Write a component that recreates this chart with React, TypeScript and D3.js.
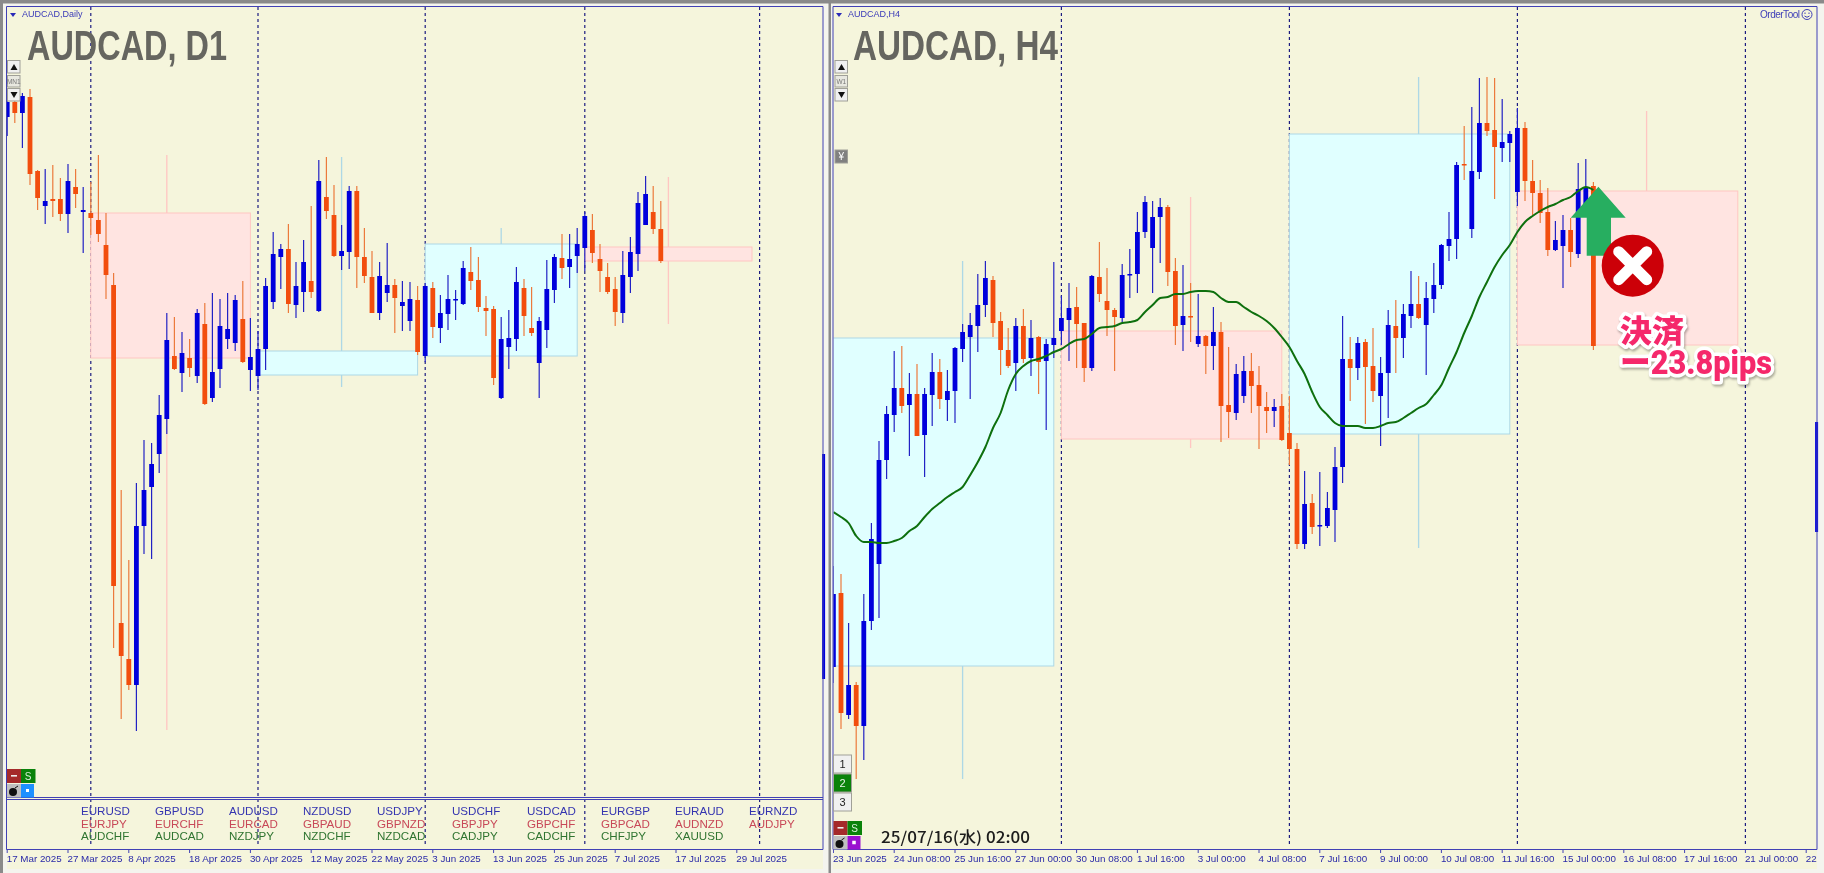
import React from "react";
import * as d3 from "d3";

type Candle = [number, number, number, number];
type Block = { from: number; to: number; top: number; bottom: number; wick: number; high: number; low: number; up: boolean };

// Candles: [open, high, low, close], in pips above the chart's base level. The chart has no price scale.
const dailyCandles: Candle[] = [
  [783,800,764,798],[798,802,777,787],[787,807,752,804],[803,811,715,726],[729,730,690,702],[694,731,676,699],[701,735,683,699],[701,722,679,686],
  [686,736,667,719],[713,731,692,706],[688,713,647,690],[687,718,665,682],[680,745,658,666],[655,687,601,625],[615,627,252,314],[277,410,181,244],
  [241,340,210,215],[215,417,169,374],[374,460,346,410],[413,457,341,436],[446,505,427,485],[481,587,466,560],[544,583,530,531],[527,568,508,547],
  [542,561,523,532],[524,591,517,587],[576,597,495,496],[502,607,498,528],[531,601,512,574],[561,607,551,571],[557,605,549,600],[581,619,537,538],
  [530,582,509,543],[524,569,510,551],[551,622,530,614],[598,668,591,646],[643,656,611,651],[651,676,587,596],[595,638,582,614],[608,660,588,638],
  [619,694,602,608],[589,740,588,719],[703,743,681,689],[685,715,643,644],[644,675,630,649],[648,714,631,709],[709,714,612,643],[643,672,617,624],
  [623,649,587,587],[587,638,580,624],[607,657,598,615],[615,621,567,602],[594,619,569,598],[579,618,569,601],[600,614,545,548],[544,617,538,614],
  [612,618,562,573],[572,605,557,587],[586,625,570,601],[600,610,580,601],[596,639,595,632],[628,653,610,619],[620,643,588,593],[592,604,564,589],
  [591,594,515,522],[502,583,501,561],[553,590,531,562],[561,633,549,618],[612,621,564,584],[572,613,564,567],[537,583,502,579],[570,640,552,611],
  [610,646,597,643],[642,666,621,632],[633,666,612,641],[644,672,627,656],[652,688,629,684],[670,686,637,647],[641,656,608,629],[623,637,606,608],
  [611,623,574,588],[587,649,577,625],[623,663,607,648],[646,708,629,697],[675,724,675,706],[688,714,666,671],[671,699,637,639],
];

const h4Candles: Candle[] = [
  [233,334,217,306],[307,326,171,187],[185,277,181,215],[215,218,121,174],[174,306,140,279],[279,377,270,361],[336,459,282,440],[440,494,421,486],
  [485,549,468,512],[512,554,487,494],[495,527,444,506],[506,536,464,464],[465,512,423,506],[505,547,474,528],[528,541,491,501],[500,530,479,509],
  [509,553,477,552],[551,576,538,568],[563,587,501,575],[574,626,548,595],[595,639,583,622],[620,624,563,577],[579,588,525,550],[550,572,532,534],
  [537,582,509,574],[574,591,537,541],[542,580,524,562],[563,564,506,538],[539,561,470,556],[555,638,542,562],[569,604,555,582],[580,617,539,592],
  [593,613,532,576],[577,577,518,532],[532,625,529,624],[623,658,598,606],[599,632,564,590],[590,592,529,583],[582,636,578,625],[625,651,602,626],
  [626,688,607,668],[668,704,662,698],[652,699,607,683],[683,702,637,693],[693,695,614,628],[629,642,555,574],[575,635,549,584],[584,617,558,583],
  [556,606,553,564],[564,565,526,554],[554,593,530,568],[568,578,458,494],[495,553,462,488],[487,536,480,526],[504,544,497,529],[529,547,487,514],
  [515,534,451,494],[493,508,467,489],[489,501,473,493],[494,506,459,460],[467,504,435,451],[451,457,351,356],[356,429,351,396],[397,406,366,373],
  [374,428,354,375],[374,408,372,392],[390,453,358,433],[433,584,417,541],[541,563,499,532],[532,563,520,557],[558,561,476,533],[534,572,498,509],
  [504,543,454,527],[527,590,482,575],[574,600,527,562],[562,596,542,586],[584,629,572,596],[596,624,581,582],[575,618,525,602],[601,637,587,615],
  [615,656,611,655],[654,688,639,661],[661,738,641,735],[736,774,720,735],[671,793,662,729],[728,822,721,777],[777,823,764,769],[770,822,701,753],
  [752,801,738,758],[757,769,738,766],[708,792,694,772],[772,778,699,719],[719,740,685,707],[707,720,677,687],[688,712,644,650],[650,679,649,660],
  [654,685,612,670],[670,682,633,648],[646,737,642,711],[695,741,685,713],[714,718,550,554],
];

const h4MovingAverage = [
  388,383,377,364,358,358,357,357,359,362,369,374,383,391,397,403,408,413,425,438,453,472,487,510,526,534,539,541,544,548,
  551,556,560,561,566,572,573,574,577,578,580,588,595,602,603,606,606,608,609,609,608,602,598,598,593,588,584,579,572,563,
  553,539,526,508,493,485,477,474,474,474,472,472,474,477,478,482,487,492,496,505,515,532,548,567,584,603,618,633,645,655,
  668,678,684,689,693,696,700,703,709,713,710,
];

// Higher-timeframe candles shown as shaded boxes with a thin wick.
const dailyBlocks: Block[] = [
  { from: -1, to: 10, top: 690, bottom: 690, wick: 5, high: 690, low: 690, up: false },
  { from: 11, to: 32, top: 687, bottom: 542, wick: 21, high: 745, low: 170, up: false },
  { from: 33, to: 54, top: 549, bottom: 525, wick: 44, high: 743, low: 513, up: true },
  { from: 55, to: 75, top: 656, bottom: 544, wick: 65, high: 672, low: 501, up: true },
  { from: 76, to: 98, top: 653, bottom: 639, wick: 87, high: 723, low: 576, up: false },
];
const h4Blocks: Block[] = [
  { from: -1, to: 29, top: 562, bottom: 234, wick: 17, high: 639, low: 121, up: true },
  { from: 30, to: 59, top: 569, bottom: 461, wick: 47, high: 703, low: 452, up: false },
  { from: 60, to: 89, top: 766, bottom: 466, wick: 77, high: 823, low: 352, up: true },
  { from: 90, to: 119, top: 709, bottom: 555, wick: 107, high: 789, low: 555, up: false },
];

const dailyDividers = [11, 33, 55, 76, 99];
const h4Dividers = [30, 60, 90, 120];
const dailyEdgeBar: [number, number] = [446, 221];
const h4EdgeBar: [number, number] = [478, 368];

const dailyTicks = ["17 Mar 2025","27 Mar 2025","8 Apr 2025","18 Apr 2025","30 Apr 2025","12 May 2025","22 May 2025","3 Jun 2025","13 Jun 2025","25 Jun 2025","7 Jul 2025","17 Jul 2025","29 Jul 2025"];
const h4Ticks = ["23 Jun 2025","24 Jun 08:00","25 Jun 16:00","27 Jun 00:00","30 Jun 08:00","1 Jul 16:00","3 Jul 00:00","4 Jul 08:00","7 Jul 16:00","9 Jul 00:00","10 Jul 08:00","11 Jul 16:00","15 Jul 00:00","16 Jul 08:00","17 Jul 16:00","21 Jul 00:00","22 Jul 08:00"];

const symbolsMajor = ["EURUSD","GBPUSD","AUDUSD","NZDUSD","USDJPY","USDCHF","USDCAD","EURGBP","EURAUD","EURNZD"];
const symbolsCrossA = ["EURJPY","EURCHF","EURCAD","GBPAUD","GBPNZD","GBPJPY","GBPCHF","GBPCAD","AUDNZD","AUDJPY"];
const symbolsCrossB = ["AUDCHF","AUDCAD","NZDJPY","NZDCHF","NZDCAD","CADJPY","CADCHF","CHFJPY","XAUUSD"];
const symbolColumnX = [81, 155, 229, 303, 377, 452, 527, 601, 675, 749];

const BEIGE = "#f5f5dc";
const BLUE = "#0000dc";
const ORANGE = "#f24e0e";
const WICK_BLUE = "#2222c4";
const WICK_ORANGE = "#ec7a3c";
const FRAME = "#4040b4";
const AXIS_FONT = "'Liberation Sans', Arial, sans-serif";

const y = d3.scaleLinear().domain([894, 51]).range([6, 849]);
const xDaily = d3.scaleLinear().domain([0, 100]).range([7.2, 767.2]);
const xH4 = d3.scaleLinear().domain([0, 100]).range([833.4, 1593.4]);

function Blocks({ blocks, x }: { blocks: Block[]; x: d3.ScaleLinear<number, number> }) {
  return (
    <g>
      {blocks.map((b, i) => {
        const edge = b.up ? "#add8e6" : "#ffc6c2";
        return (
          <g key={i}>
            <line x1={x(b.wick)} x2={x(b.wick)} y1={y(b.high)} y2={y(b.low)} stroke={edge} strokeWidth={1.3} />
            <rect x={x(b.from)} y={y(b.top)} width={x(b.to) - x(b.from)} height={Math.max(0, y(b.bottom) - y(b.top))}
              fill={b.up ? "#e0ffff" : "#ffe4e1"} stroke={edge} strokeWidth={1} />
          </g>
        );
      })}
    </g>
  );
}

function Candles({ data, x }: { data: Candle[]; x: d3.ScaleLinear<number, number> }) {
  return (
    <g>
      {data.map(([o, h, l, c], i) => {
        const up = c >= o;
        const cx = x(i);
        const top = y(Math.max(o, c));
        const bottom = y(Math.min(o, c));
        return (
          <g key={i}>
            <line x1={cx} x2={cx} y1={y(h)} y2={y(l)} stroke={up ? WICK_BLUE : WICK_ORANGE} strokeWidth={1.2} />
            <rect x={cx - 2.4} y={top} width={4.8} height={Math.max(1.5, bottom - top)} fill={up ? BLUE : ORANGE} />
          </g>
        );
      })}
    </g>
  );
}

function Dividers({ at, x }: { at: number[]; x: d3.ScaleLinear<number, number> }) {
  return (
    <g>
      {at.map((d) => (
        <line key={d} x1={x(d)} x2={x(d)} y1={7} y2={847} stroke="#1c1c80" strokeWidth={1.2} strokeDasharray="3 3" />
      ))}
    </g>
  );
}

function Ticks({ labels, x, step }: { labels: string[]; x: d3.ScaleLinear<number, number>; step: number }) {
  return (
    <g>
      {labels.map((t, i) => (
        <g key={t}>
          <line x1={x(i * step)} x2={x(i * step)} y1={849} y2={853} stroke={FRAME} strokeWidth={1} />
          <text x={x(i * step) - 0.5} y={862} fontFamily={AXIS_FONT} fontSize={9.8} fill="#2a2aa8">{t}</text>
        </g>
      ))}
    </g>
  );
}

function Button({ x0, y0, w, h, fill, label, color = "#222", size = 9 }: { x0: number; y0: number; w: number; h: number; fill: string; label?: string; color?: string; size?: number }) {
  return (
    <g>
      <rect x={x0} y={y0} width={w} height={h} fill={fill} stroke="#a0a098" strokeWidth={1} />
      {label && (
        <text x={x0 + w / 2} y={y0 + h / 2 + size * 0.36} textAnchor="middle" fontFamily={AXIS_FONT} fontSize={size} fill={color}>{label}</text>
      )}
    </g>
  );
}

function Stepper({ x0, label }: { x0: number; label: string }) {
  return (
    <g>
      <Button x0={x0} y0={60.5} w={12.5} h={12.5} fill="#f0f0f0" />
      <path d={`M${x0 + 3},70 h7 l-3.5,-6 z`} fill="#111" />
      <Button x0={x0} y0={75.5} w={12.5} h={11.5} fill="#e8e8e0" label={label} color="#777" size={6.5} />
      <Button x0={x0} y0={88.5} w={12.5} h={12.5} fill="#f0f0f0" />
      <path d={`M${x0 + 3},92 h7 l-3.5,6 z`} fill="#111" />
    </g>
  );
}

function Toolbox({ x0, y0, pick, dot }: { x0: number; y0: number; pick: string; dot: number }) {
  return (
    <g>
      <rect x={x0} y={y0} width={14} height={14} fill="#a52a2a" />
      <rect x={x0 + 4} y={y0 + 6} width={6} height={1.6} fill="#eee" />
      <rect x={x0 + 14} y={y0} width={14.5} height={14} fill="#0a820a" />
      <text x={x0 + 21} y={y0 + 11} textAnchor="middle" fontFamily={AXIS_FONT} fontSize={10} fill="#d8f0d8">S</text>
      <rect x={x0} y={y0 + 15} width={14} height={13.5} fill="#c0c0c0" />
      <circle cx={x0 + 6} cy={y0 + 23} r={4} fill="#111" />
      <path d={`M${x0 + 8},${y0 + 19} l3,-2`} stroke="#111" strokeWidth={1} />
      <rect x={x0 + 14} y={y0 + 15} width={13} height={13.5} fill={pick} />
      <rect x={x0 + 20.5 - dot / 2} y={y0 + 21.5 - dot / 2} width={dot} height={dot} fill="#fff" />
    </g>
  );
}

function Title({ x0, text, width }: { x0: number; text: string; width: number }) {
  return (
    <text x={x0} y={59.5} fontFamily="'Liberation Sans Narrow','Liberation Sans',sans-serif" fontWeight={700} fontSize={43}
      fill="#666660" textLength={width} lengthAdjust="spacingAndGlyphs">{text}</text>
  );
}

export default function App() {
  const ma = d3.line<number>().x((_, i) => xH4(i)).y((v) => y(v)).curve(d3.curveMonotoneX)(h4MovingAverage) ?? "";
  const lastX = xH4(100);
  const crossX = lastX + 39.3;
  const crossY = 265.7;
  return (
    <svg width={1824} height={873} viewBox="0 0 1824 873" style={{ position: "absolute", left: 0, top: 0, display: "block" }}>
      <defs>
        <clipPath id="dailyClip"><rect x={7} y={7} width={816} height={790} /></clipPath>
        <clipPath id="h4Clip"><rect x={833.5} y={7} width={983} height={842} /></clipPath>
        <clipPath id="h4AxisClip"><rect x={833} y={849} width={985} height={20} /></clipPath>
      </defs>
      <g style={{ filter: "blur(0.3px)" }}>
      <rect width={1824} height={873} fill="#f4f4ee" />
      <rect width={1824} height={3.5} fill="#8a8a8a" />
      <rect width={3} height={873} fill="#8a8a8a" />
      <rect x={828.5} width={2.5} height={873} fill="#8a8a8a" />
      <rect x={7} y={6} width={816} height={863} fill={BEIGE} />
      <rect x={833} y={6} width={984} height={863} fill={BEIGE} />

      {/* Daily panel */}
      <Dividers at={dailyDividers} x={xDaily} />
      <g clipPath="url(#dailyClip)">
        <Blocks blocks={dailyBlocks} x={xDaily} />
        <Candles data={dailyCandles} x={xDaily} />
      </g>
      <line x1={823.6} x2={823.6} y1={y(dailyEdgeBar[0])} y2={y(dailyEdgeBar[1])} stroke={BLUE} strokeWidth={3} />
      <path d="M6.5,849.5 V6.5 H823 V849.5 Z" fill="none" stroke={FRAME} strokeWidth={1} />
      <path d="M6.5,797.5 H823 M6.5,799.5 H823" fill="none" stroke={FRAME} strokeWidth={1} />
      <Ticks labels={dailyTicks} x={xDaily} step={8} />
      {[symbolsMajor, symbolsCrossA, symbolsCrossB].map((row, r) => (
        <g key={r}>
          {row.map((s, i) => (
            <text key={s} x={symbolColumnX[i]} y={815 + [0, 13, 25][r]} fontFamily={AXIS_FONT} fontSize={11.6}
              fill={["#3434b0", "#c84858", "#2f7430"][r]}>{s}</text>
          ))}
        </g>
      ))}
      <path d="M10,13 h6 l-3,4 z" fill="#2a2ab8" />
      <text x={22} y={17} fontFamily={AXIS_FONT} fontSize={9} fill="#3a3ab8">AUDCAD,Daily</text>
      <Title x0={27} text="AUDCAD, D1" width={200} />
      <Stepper x0={7.5} label="MN1" />
      <Toolbox x0={7} y0={769} pick="#1e90ff" dot={3} />

      {/* H4 panel */}
      <Dividers at={h4Dividers} x={xH4} />
      <g clipPath="url(#h4Clip)">
        <Blocks blocks={h4Blocks} x={xH4} />
        <Candles data={h4Candles} x={xH4} />
        <path d={ma} fill="none" stroke="#0e700e" strokeWidth={2} />
      </g>
      <line x1={1816.6} x2={1816.6} y1={y(h4EdgeBar[0])} y2={y(h4EdgeBar[1])} stroke={BLUE} strokeWidth={3} />
      <path d="M833,849.5 V6.5 H1817 V849.5 Z" fill="none" stroke={FRAME} strokeWidth={1} />
      <g clipPath="url(#h4AxisClip)">
        <Ticks labels={h4Ticks} x={xH4} step={8} />
      </g>
      <path d="M836,13 h6 l-3,4 z" fill="#2a2ab8" />
      <text x={848} y={17} fontFamily={AXIS_FONT} fontSize={9} fill="#3a3ab8">AUDCAD,H4</text>
      <Title x0={853} text="AUDCAD, H4" width={205} />
      <Stepper x0={835} label="W1" />
      <Button x0={835} y0={150} w={12.5} h={13} fill="#808080" label="¥" color="#fff" size={10} />
      <Button x0={833.5} y0={755} w={18} h={18} fill="#f0f0f0" label="1" size={11} />
      <Button x0={833.5} y0={774} w={18} h={18} fill="#0a820a" label="2" color="#e8f4e8" size={11} />
      <Button x0={833.5} y0={793} w={18} h={18} fill="#f0f0f0" label="3" size={11} />
      <Toolbox x0={833.5} y0={821} pick="#9a10d0" dot={3.5} />
      <text x={881} y={843} fontFamily="'Noto Sans CJK JP',sans-serif" fontSize={15.5} fontWeight={500} fill="#1c1c1c"
        textLength={149} lengthAdjust="spacingAndGlyphs">25/07/16(水) 02:00</text>
      <text x={1760} y={18} fontFamily={AXIS_FONT} fontSize={10} fill="#4040b8" textLength={40}>OrderTool</text>
      <g fill="none" stroke="#4040b8" strokeWidth={1}>
        <circle cx={1807} cy={14.5} r={5} />
        <path d="M1804.5,16 q2.5,2.5 5,0" />
        <path d="M1805,12.5 v1.5 M1809,12.5 v1.5" />
      </g>

      {/* Trade annotation */}
      <path d={`M${lastX + 5},186.7 L${lastX + 32.3},217.7 H${lastX + 17.6} V255.7 H${lastX - 6.7} V217.7 H${lastX - 22.7} Z`} fill="#27ae60" />
      <circle cx={crossX} cy={crossY} r={31} fill="#cc0008" />
      <path d={`M${crossX - 14},${crossY - 14} L${crossX + 14},${crossY + 14} M${crossX + 14},${crossY - 14} L${crossX - 14},${crossY + 14}`}
        stroke="#fff" strokeWidth={11} strokeLinecap="round" />
      <g fontWeight={900} fill="#f5286b" stroke="#fff" strokeWidth={7}
        strokeLinejoin="round" style={{ paintOrder: "stroke", filter: "drop-shadow(1px 2px 1px rgba(0,0,0,0.3))" }}>
        <text x={1620} y={342} fontFamily="'Noto Sans CJK JP',sans-serif" fontSize={31} textLength={64} lengthAdjust="spacingAndGlyphs">決済</text>
        <text x={1620} y={374} fontFamily="Roboto,'Noto Sans CJK JP',sans-serif" fontSize={33} textLength={152} lengthAdjust="spacingAndGlyphs">ー23.8pips</text>
      </g>
      </g>
    </svg>
  );
}
